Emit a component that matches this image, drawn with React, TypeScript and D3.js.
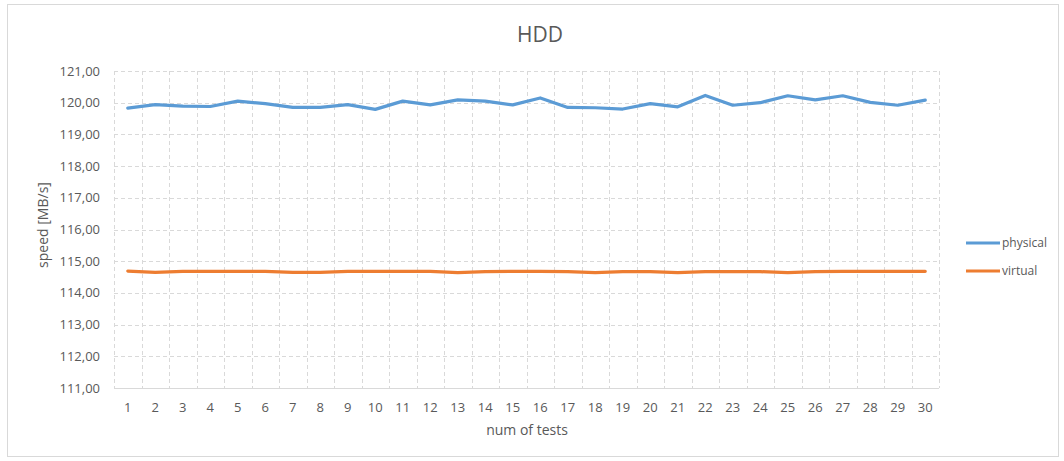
import React from "react";
import * as d3 from "d3";

// Test runs along the x axis
const tests: number[] = Array.from({ length: 30 }, (_, i) => i + 1);

// Measured throughput per run [MB/s]
const physical: number[] = [
  119.83, 119.94, 119.89, 119.88, 120.05, 119.97, 119.85, 119.85, 119.94, 119.79,
  120.05, 119.93, 120.09, 120.05, 119.93, 120.15, 119.85, 119.84, 119.8, 119.97,
  119.87, 120.23, 119.92, 120.0, 120.22, 120.09, 120.22, 120.01, 119.92, 120.08,
];
const virtual: number[] = [
  114.69, 114.65, 114.68, 114.68, 114.68, 114.68, 114.65, 114.65, 114.68, 114.68,
  114.68, 114.68, 114.64, 114.67, 114.68, 114.68, 114.67, 114.64, 114.67, 114.67,
  114.64, 114.67, 114.67, 114.67, 114.64, 114.67, 114.68, 114.68, 114.68, 114.68,
];

const yTicks: number[] = [111, 112, 113, 114, 115, 116, 117, 118, 119, 120, 121];

const seriesNames = ["physical", "virtual"];
const seriesColors = ["#5B9BD5", "#ED7D31"];

const W = 1064;
const H = 461;
const plot = { left: 114, right: 939, top: 71, bottom: 388 };
const FONT = "'Open Sans', 'DejaVu Sans', sans-serif";
const TEXT = "#595959";
const GRID = "#d9d9d9";

export default function App() {
  const x = d3
    .scaleBand<number>()
    .domain(tests)
    .range([plot.left, plot.right])
    .padding(0);
  const y = d3.scaleLinear().domain([111, 121]).range([plot.bottom, plot.top]);
  const cx = (t: number) => (x(t) as number) + x.bandwidth() / 2;
  const fmt = (v: number) => d3.format(".2f")(v).replace(".", ",");

  const line = d3
    .line<number>()
    .x((_, i) => cx(tests[i]))
    .y((v) => y(v));

  const series = [physical, virtual];
  const gridXs = [...tests.map((t) => x(t) as number), plot.right];

  return (
    <svg
      width={W}
      height={H}
      style={{ position: "absolute", left: 0, top: 0, background: "#fff" }}
      fontFamily={FONT}
    >
      <rect x={0} y={0} width={W} height={H} fill="#fff" />
      <rect x={7.5} y={4.5} width={1051} height={452} fill="none" stroke={GRID} />

      <text x={540} y={42} textAnchor="middle" fontSize={21} fill={TEXT}>
        HDD
      </text>

      {/* horizontal gridlines */}
      {yTicks.slice(1).map((t) => (
        <line
          key={"h" + t}
          x1={plot.left}
          x2={plot.right}
          y1={Math.round(y(t)) + 0.5}
          y2={Math.round(y(t)) + 0.5}
          stroke={GRID}
          strokeDasharray="4 3"
        />
      ))}
      {/* vertical gridlines at category boundaries */}
      {gridXs.map((gx, i) => (
        <line
          key={"v" + i}
          x1={Math.round(gx) + 0.5}
          x2={Math.round(gx) + 0.5}
          y1={plot.top}
          y2={plot.bottom}
          stroke={GRID}
          strokeDasharray="4 3"
        />
      ))}
      <line
        x1={plot.left}
        x2={plot.right}
        y1={Math.round(y(111)) + 0.5}
        y2={Math.round(y(111)) + 0.5}
        stroke={GRID}
      />

      {/* y tick labels */}
      {yTicks.map((t) => (
        <text
          key={"yt" + t}
          x={100}
          y={y(t)}
          dy="0.35em"
          textAnchor="end"
          fontSize={13}
          fill={TEXT}
        >
          {fmt(t)}
        </text>
      ))}
      <text
        transform={`translate(43, 225) rotate(-90)`}
        textAnchor="middle"
        dy="0.35em"
        fontSize={14}
        fill={TEXT}
      >
        speed [MB/s]
      </text>

      {/* x tick labels */}
      {tests.map((t) => (
        <text
          key={"xt" + t}
          x={cx(t)}
          y={407}
          dy="0.35em"
          textAnchor="middle"
          fontSize={13}
          fill={TEXT}
        >
          {t}
        </text>
      ))}
      <text x={527} y={435} textAnchor="middle" fontSize={14} fill={TEXT}>
        num of tests
      </text>

      {/* data lines */}
      {series.map((s, i) => (
        <path
          key={seriesNames[i]}
          d={line(s) ?? ""}
          fill="none"
          stroke={seriesColors[i]}
          strokeWidth={3.2}
          strokeLinejoin="round"
          strokeLinecap="round"
        />
      ))}

      {/* legend */}
      {seriesNames.map((name, i) => {
        const ly = 243 + i * 28;
        return (
          <g key={"lg" + name}>
            <line x1={966} x2={1000} y1={ly} y2={ly} stroke={seriesColors[i]} strokeWidth={3.2} />
            <text x={1002} y={ly} dy="0.35em" fontSize={12} fill={TEXT}>
              {name}
            </text>
          </g>
        );
      })}
    </svg>
  );
}
